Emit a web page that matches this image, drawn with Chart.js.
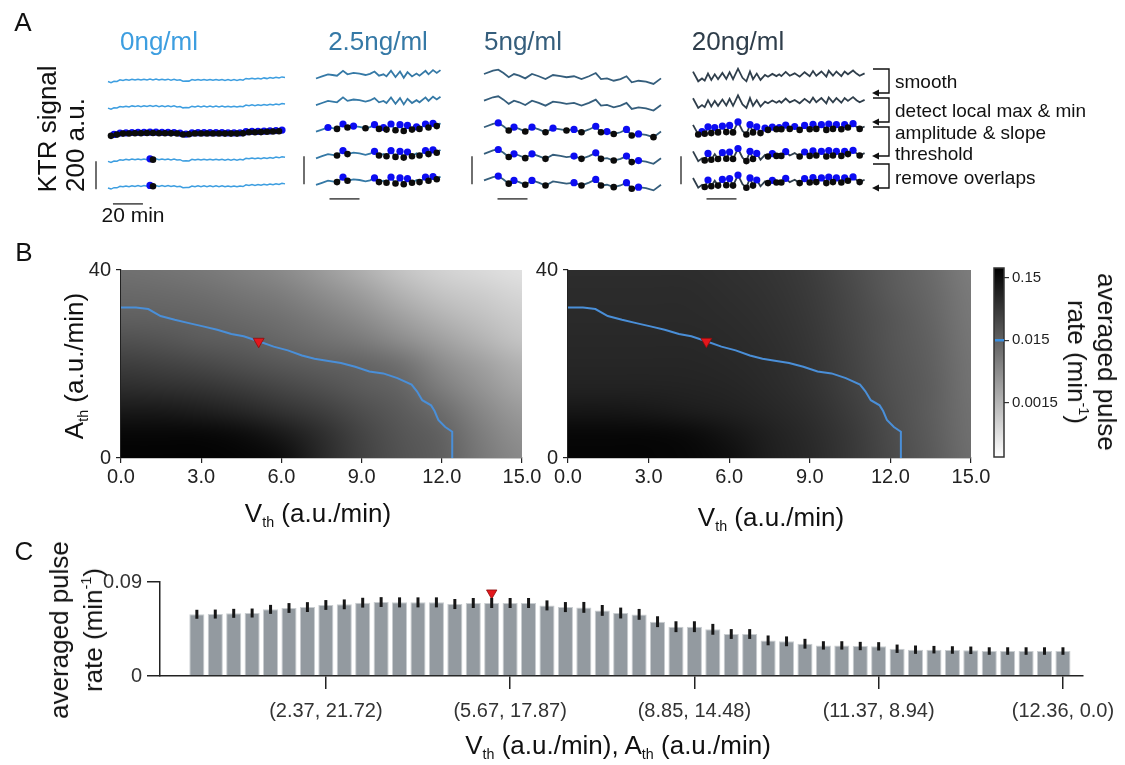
<!DOCTYPE html>
<html><head><meta charset="utf-8">
<script src="https://cdn.jsdelivr.net/npm/chart.js@4.4.1/dist/chart.umd.min.js"></script>
<style>
html,body{margin:0;padding:0;background:#fff;}
#fig{position:relative;width:1125px;height:765px;overflow:hidden;background:#fff;font-family:'Liberation Sans',Arial,Helvetica,sans-serif;color:#111;}
#fig canvas{position:absolute;left:0;top:0;}
.t{position:absolute;white-space:nowrap;line-height:1;transform:translate(-50%,-50%);}
.l{position:absolute;white-space:nowrap;line-height:1;transform:translateY(-50%);}
.rl{position:absolute;white-space:nowrap;text-align:center;transform:translate(-50%,-50%) rotate(-90deg);}
.rr{position:absolute;white-space:nowrap;text-align:center;transform:translate(-50%,-50%) rotate(90deg);}
sub{font-size:0.55em;vertical-align:-0.35em;line-height:0;}
sup{font-size:0.55em;vertical-align:0.75em;line-height:0;}
</style></head>
<body>
<div id="fig"></div>
<script>
// ================= DATA =================
// Panel A : KTR traces (time in min, signal in a.u.)
const conditionLabels = ['0ng/ml','2.5ng/ml','5ng/ml','20ng/ml'];
const c0_t = [0,2,4,6,8,10,12,14,16,18,20,22,24,26,28,30,32,34,36,38,40,42,44,46,48,50,52,54,56,58,60,62,64,66,68,70,72,74,76,78,80,82,84,86,88,90,92,94,96,98,100,102,104,106,108,110,112,114,116,118];
const c0_v = [-11,-19,-9,-10,1,-3,3,-2,5,0,6,0,6,1,7,1,7,0,6,0,6,-1,5,-2,1,-9,-7,-8,3,-2,4,-2,4,-2,4,-2,4,-2,4,-3,3,-3,3,-3,3,-1,11,7,13,7,13,8,15,10,17,12,19,14,22,18];
const c0_peaks = [14];
const c0_troughs = [15];
const c1_t = [0,4,8,11,14,18,21,25,29,33,36,39,42,45,47,50,53,56,58.5,61,64,67,69,73,75,78,80.5,83];
const c1_v = [-25,-10,5,0,-5,30,5,15,10,0,8,25,-5,5,-10,30,-15,25,-20,20,-10,10,-5,30,5,35,15,35];
const c1_peaks = [5,11,15,17,19,23,25];
const c1_troughs = [4,6,12,14,16,18,20,22,24,26];
const c2_t = [0,6,9.5,13,16.5,20,23.5,27.5,32,36.5,41,46,51,55,60,65,70,74.5,78,82,86.5,91,95,98.5,103,108,113,118];
const c2_v = [7,31,38,14,-16,7,-5,-24,7,-9,-29,0,-8,-16,-9,-29,-9,14,-29,-24,-41,-29,-9,-52,-41,-48,-64,-24];
const c2_peaks = [2,5,8,14,17,22,24];
const c2_troughs = [4,7,10,15,18,20,23];
const c3_t = [0,3.5,6,7.8,10,12.2,14.5,16.7,19.6,22.2,24.4,26.7,30,33,35.6,38,40,42.5,45,48,50,52.9,55.6,57.5,58.9,61.8,64.5,67.8,71.1,74.4,77.8,80,82.2,85.6,88.9,90.5,93.3,95.6,98.9,101.1,103.3,106.7,109,111.1,114.4];
const c3_v = [24,-45,-25,-40,10,-35,5,-30,15,-28,20,-30,45,-20,-45,25,-30,10,-35,0,-12,8,-8,5,-8,22,-5,12,-12,20,-8,28,-5,25,-12,30,-5,25,-8,25,5,32,10,-5,12];
const c3_peaks = [4,8,10,12,15,17,21,25,29,31,33,35,37,39,41];
const c3_troughs = [3,5,7,9,11,14,16,20,22,24,28,30,32,34,36,38,40,43];
const stepLabels = ['smooth','detect local max & min','amplitude & slope','threshold','remove overlaps'];
const scaleBarMinutes = 20;
const scaleBarAU = 200;

// Panel B : averaged pulse rate (min^-1) on the (V_th, A_th) grid
const heatV = [0,1.5,3,4.5,6,7.5,9,10.5,12,13.5,15];
const heatA = [40,35,30,25,20,15,10,5,0];
const rateLeft = [
  [0.0101,0.0093,0.0081,0.0065,0.0049,0.0031,0.0018,0.0010,0.00069,0.00055,0.00045],
  [0.0125,0.0119,0.0107,0.0088,0.0071,0.0047,0.0029,0.0016,0.0010,0.00079,0.00060],
  [0.0156,0.0152,0.0140,0.0119,0.0098,0.0071,0.0047,0.0027,0.0016,0.0011,0.00079],
  [0.024,0.0217,0.018,0.016,0.0129,0.0101,0.0077,0.0047,0.0027,0.0016,0.0010],
  [0.040,0.0355,0.030,0.024,0.0194,0.016,0.014,0.0101,0.0047,0.0027,0.0016],
  [0.063,0.058,0.052,0.042,0.032,0.024,0.018,0.014,0.0071,0.0038,0.0022],
  [0.109,0.109,0.095,0.0765,0.055,0.040,0.0256,0.018,0.0112,0.0054,0.0031],
  [0.18,0.18,0.18,0.156,0.109,0.063,0.0336,0.0211,0.0152,0.0071,0.0041],
  [0.20,0.20,0.20,0.19,0.156,0.072,0.0365,0.0229,0.0165,0.0081,0.0049]
];
const rateRight = [
  [0.063,0.063,0.063,0.063,0.058,0.052,0.042,0.028,0.018,0.012,0.0071],
  [0.067,0.067,0.067,0.067,0.061,0.055,0.044,0.030,0.019,0.013,0.0077],
  [0.069,0.069,0.069,0.069,0.065,0.058,0.047,0.032,0.021,0.014,0.0081],
  [0.072,0.072,0.072,0.072,0.069,0.061,0.049,0.034,0.022,0.015,0.0085],
  [0.077,0.077,0.077,0.077,0.072,0.065,0.052,0.036,0.023,0.016,0.0090],
  [0.085,0.085,0.085,0.083,0.079,0.069,0.055,0.038,0.024,0.017,0.0093],
  [0.119,0.119,0.112,0.101,0.090,0.077,0.061,0.042,0.026,0.017,0.0098],
  [0.18,0.18,0.18,0.165,0.125,0.090,0.069,0.047,0.028,0.018,0.0101],
  [0.19,0.19,0.19,0.18,0.148,0.095,0.072,0.048,0.029,0.019,0.0106]
];
const contourV = [0,0.56,1.02,1.48,2.01,2.54,3.07,3.60,4.13,4.59,5.12,5.71,6.24,6.77,7.24,7.70,8.23,8.76,9.29,9.81,10.34,10.87,11.07,11.27,11.60,11.73,11.87,12.13,12.39,12.39];
const contourA = [32.0,32.0,31.7,30.2,29.4,28.7,28.0,27.3,26.4,25.9,24.9,23.7,22.9,21.8,21.1,20.7,20.2,19.4,18.4,18.0,17.0,15.6,14.2,12.3,11.2,10.0,8.1,6.6,5.6,0];
const markV = 5.15, markA = 24.8;
const vTicks = [0,3,6,9,12,15];
const aTicks = [0,40];
const cbMin = 0.0002, cbMax = 0.217;
const cbTicks = [0.0015,0.015,0.15];
const cbTickLabels = ['0.0015','0.015','0.15'];
const contourLevel = 0.015;

// Panel C : averaged pulse rate along the contour
const barRate = [0.0591,0.0593,0.0600,0.0603,0.0638,0.0651,0.0660,0.0680,0.0686,0.0702,0.0708,0.0705,0.0705,0.0705,0.0689,0.0699,0.0699,0.0699,0.0699,0.0676,0.0660,0.0657,0.0628,0.0603,0.0590,0.0520,0.0472,0.0472,0.0447,0.0402,0.0402,0.0341,0.0332,0.0309,0.0293,0.0293,0.0287,0.0284,0.0261,0.0252,0.0252,0.0249,0.0246,0.0239,0.0239,0.0239,0.0239,0.0239];
const barErr = [0.0043,0.0043,0.0043,0.0043,0.0043,0.0047,0.0047,0.0047,0.0047,0.0047,0.0047,0.0048,0.0048,0.0048,0.0048,0.0048,0.0048,0.0048,0.0048,0.0048,0.0048,0.0052,0.0052,0.0052,0.0052,0.0052,0.0052,0.0052,0.0052,0.0047,0.0047,0.0047,0.0047,0.0047,0.0040,0.0040,0.0040,0.0040,0.0040,0.0040,0.0036,0.0036,0.0036,0.0036,0.0036,0.0036,0.0036,0.0036];
const barTickIdx = [7,17,27,37,47];
const barTickLabels = ['(2.37, 21.72)','(5.67, 17.87)','(8.85, 14.48)','(11.37, 8.94)','(12.36, 0.0)'];
const barMarkIdx = 16;
const rateTicks = [0,0.09];
const rateTickLabels = ['0','0.09'];

// ================= RENDER =================
const W = 1125, H = 765;
const FONT = "'Liberation Sans', Arial, Helvetica, sans-serif";
Chart.defaults.font.family = FONT;
Chart.defaults.color = '#222';
const fig = document.getElementById('fig');
function newCtx(){ const c=document.createElement('canvas'); c.width=W; c.height=H; fig.appendChild(c); return c.getContext('2d'); }
function text(cls, x, y, size, html, extra){ const d=document.createElement('div'); d.className=cls; d.style.left=x+'px'; d.style.top=y+'px'; d.style.fontSize=size+'px'; if(extra) Object.assign(d.style, extra); d.innerHTML=html; fig.appendChild(d); return d; }
const BLUE_DOT = '#0c0cf2', BLACK_DOT = '#0b0b0b';

// ---------- Panel A ----------
const PX_PER_MIN = 1.5, PX_PER_AU = 0.14;
const rowOffsets = [0,-190,-380,-570,-760];
const condStyle = [
  {color:'#3d9ee0', lw:1.5, x0:108, top:55, barStart:3.3},
  {color:'#3579a6', lw:1.8, x0:316, top:50, barStart:9},
  {color:'#355e7c', lw:1.8, x0:484, top:50, barStart:9},
  {color:'#2f3e4b', lw:1.8, x0:693, top:50, barStart:9}
];
const condData = [
  {t:c0_t, v:c0_v, pk:c0_peaks, tr:c0_troughs},
  {t:c1_t, v:c1_v, pk:c1_peaks, tr:c1_troughs},
  {t:c2_t, v:c2_v, pk:c2_peaks, tr:c2_troughs},
  {t:c3_t, v:c3_v, pk:c3_peaks, tr:c3_troughs}
];
function extrema(v){ const mx=[],mn=[]; for(let i=1;i<v.length-1;i++){ if(v[i]>v[i-1]&&v[i]>=v[i+1]) mx.push(i); else if(v[i]<v[i-1]&&v[i]<=v[i+1]) mn.push(i);} return {mx,mn}; }
const bracketPix = [[69,93],[98,122],[127,156],[164,188]];
const bracketPlugin = {id:'brackets', afterDraw(chart){
  const c=chart.ctx; c.save(); c.strokeStyle='#111'; c.fillStyle='#111'; c.lineWidth=1.4;
  for(const [y0,y1] of bracketPix){
    c.beginPath(); c.moveTo(873,y0); c.lineTo(889,y0); c.lineTo(889,y1); c.lineTo(878,y1); c.stroke();
    c.beginPath(); c.moveTo(872,y1); c.lineTo(879,y1-3.5); c.lineTo(879,y1+3.5); c.closePath(); c.fill();
  }
  c.restore(); }};

condData.forEach((cd, k) => {
  const st = condStyle[k];
  const dur = cd.t[cd.t.length-1];
  const left = st.x0 - 20, right = st.x0 + dur*PX_PER_MIN + 8;
  const top = st.top, bottom = st.top + 160;
  const ymax = 25/PX_PER_AU, ymin = ymax - (bottom-top)/PX_PER_AU;
  const ds = [];
  rowOffsets.forEach(off => ds.push({data: cd.t.map((t,i)=>({x:t,y:cd.v[i]+off})), showLine:true, borderColor:st.color, borderWidth:st.lw, pointRadius:0, order:5}));
  const ex = extrema(cd.v);
  const dots = (idx, off) => idx.map(i=>({x:cd.t[i], y:cd.v[i]+off}));
  ds.push({data:dots(ex.mx,rowOffsets[2]), pointRadius:3.6, backgroundColor:BLUE_DOT, borderWidth:0, order:2});
  ds.push({data:dots(ex.mn,rowOffsets[2]), pointRadius:3.3, backgroundColor:BLACK_DOT, borderWidth:0, order:1});
  [3,4].forEach(r => {
    ds.push({data:dots(cd.pk,rowOffsets[r]), pointRadius:3.6, backgroundColor:BLUE_DOT, borderWidth:0, order:2});
    ds.push({data:dots(cd.tr,rowOffsets[r]), pointRadius:3.3, backgroundColor:BLACK_DOT, borderWidth:0, order:1});
  });
  // scale bars (20 min, 200 a.u.)
  const vbBottom = rowOffsets[4] - 20;
  ds.push({data:[{x:-12/PX_PER_MIN, y:vbBottom},{x:-12/PX_PER_MIN, y:vbBottom+scaleBarAU}], showLine:true, borderColor:'#333', borderWidth:1.4, pointRadius:0, order:6});
  const hbY = rowOffsets[4] - 125;
  ds.push({data:[{x:st.barStart, y:hbY},{x:st.barStart+scaleBarMinutes, y:hbY}], showLine:true, borderColor:'#333', borderWidth:1.4, pointRadius:0, order:6});
  ds.forEach(d=>d.clip=false);
  new Chart(newCtx(), {
    type:'scatter', data:{datasets:ds},
    options:{animation:false, responsive:false, events:[], layout:{padding:{left:left, right:W-right, top:top, bottom:H-bottom}},
      plugins:{legend:{display:false}, tooltip:{enabled:false}},
      scales:{x:{type:'linear', display:false, min:-20/PX_PER_MIN, max:dur+8/PX_PER_MIN}, y:{type:'linear', display:false, min:ymin, max:ymax}}},
    plugins: k===3 ? [bracketPlugin] : []
  });
});

// ---------- Panel B ----------
function grayOf(v){ const f=(Math.log10(v)-Math.log10(cbMin))/(Math.log10(cbMax)-Math.log10(cbMin)); return Math.round(255*(1-Math.min(1,Math.max(0,f)))); }
function heatPlugin(grid){
  const nr=grid.length, nc=grid[0].length;
  const off=document.createElement('canvas'); off.width=nc; off.height=nr;
  const octx=off.getContext('2d'); const img=octx.createImageData(nc,nr);
  for(let r=0;r<nr;r++) for(let c=0;c<nc;c++){ const g=grayOf(grid[r][c]); const p=(r*nc+c)*4; img.data[p]=g; img.data[p+1]=g; img.data[p+2]=g; img.data[p+3]=255; }
  octx.putImageData(img,0,0);
  return {id:'heat', beforeDatasetsDraw(chart){
    const {ctx, chartArea:a, scales:{x,y}} = chart;
    const dV=heatV[1]-heatV[0], dA=heatA[0]-heatA[1];
    const x0=x.getPixelForValue(heatV[0]-dV/2), x1=x.getPixelForValue(heatV[nc-1]+dV/2);
    const y0=y.getPixelForValue(heatA[0]+dA/2), y1=y.getPixelForValue(heatA[nr-1]-dA/2);
    ctx.save(); ctx.beginPath(); ctx.rect(a.left,a.top,a.right-a.left,a.bottom-a.top); ctx.clip();
    ctx.imageSmoothingEnabled=true; ctx.imageSmoothingQuality='high';
    ctx.drawImage(off,x0,y0,x1-x0,y1-y0); ctx.restore(); }};
}
function heatChart(grid, L, R){
  const T=270, B=458, yW=50, xH=40;
  new Chart(newCtx(), {
    type:'scatter',
    data:{datasets:[
      {data:[{x:markV,y:markA}], pointStyle:'triangle', rotation:180, pointRadius:6.3, backgroundColor:'#e3171c', borderColor:'#8e0d0d', borderWidth:0.8, clip:false, order:0},
      {data:contourV.map((v,i)=>({x:v,y:contourA[i]})), showLine:true, borderColor:'#4a8fd8', borderWidth:2, pointRadius:0, order:1}
    ]},
    options:{animation:false, responsive:false, events:[], layout:{padding:{left:L-yW, right:W-R, top:T, bottom:H-B-xH}},
      plugins:{legend:{display:false}, tooltip:{enabled:false}},
      scales:{
        x:{type:'linear', min:0, max:15, afterBuildTicks:s=>{s.ticks=vTicks.map(v=>({value:v}));}, afterFit:s=>{s.height=xH;},
           ticks:{callback:v=>Number(v).toFixed(1), font:{size:20}, color:'#222', padding:2, maxRotation:0, autoSkip:false},
           grid:{drawOnChartArea:false, tickLength:5, color:'#222', lineWidth:1.2}, border:{color:'#222', width:1.2}},
        y:{type:'linear', min:0, max:40, afterBuildTicks:s=>{s.ticks=aTicks.map(v=>({value:v}));}, afterFit:s=>{s.width=yW;},
           ticks:{callback:v=>String(v), font:{size:20}, color:'#222', padding:5, autoSkip:false},
           grid:{drawOnChartArea:false, tickLength:5, color:'#222', lineWidth:1.2}, border:{color:'#222', width:1.2}}
      }},
    plugins:[heatPlugin(grid)]
  });
}
heatChart(rateLeft, 121, 522);
heatChart(rateRight, 568, 971);

// colour bar
const cbPlugin = {id:'cbar', beforeDatasetsDraw(chart){
  const {ctx, chartArea:a, scales:{y}} = chart;
  const yTop=y.getPixelForValue(cbMax), yBot=y.getPixelForValue(cbMin);
  const g=ctx.createLinearGradient(0,yTop,0,yBot); g.addColorStop(0,'rgb(0,0,0)'); g.addColorStop(1,'rgb(255,255,255)');
  ctx.save(); ctx.fillStyle=g; ctx.fillRect(a.left,yTop,a.right-a.left,yBot-yTop);
  ctx.strokeStyle='#333'; ctx.lineWidth=1.5; ctx.strokeRect(a.left,yTop,a.right-a.left,yBot-yTop);
  const yl=y.getPixelForValue(contourLevel); ctx.strokeStyle='#3a8fe0'; ctx.lineWidth=2.5;
  ctx.beginPath(); ctx.moveTo(a.left+1,yl); ctx.lineTo(a.right,yl); ctx.stroke(); ctx.restore(); }};
new Chart(newCtx(), {
  type:'scatter', data:{datasets:[{data:[]}]},
  options:{animation:false, responsive:false, events:[], layout:{padding:{left:994, right:W-1004-60, top:268, bottom:H-457}},
    plugins:{legend:{display:false}, tooltip:{enabled:false}},
    scales:{x:{type:'linear', display:false, min:0, max:1},
      y:{type:'logarithmic', position:'right', min:cbMin, max:cbMax, afterBuildTicks:s=>{s.ticks=cbTicks.map(v=>({value:v}));}, afterFit:s=>{s.width=60;},
         ticks:{callback:(v)=>{const i=cbTicks.indexOf(v); return i>=0?cbTickLabels[i]:'';}, font:{size:15}, color:'#222', padding:3, autoSkip:false},
         grid:{drawOnChartArea:false, tickLength:5, color:'#333', lineWidth:1.2}, border:{display:false}}}},
  plugins:[cbPlugin]
});

// ---------- Panel C ----------
const errPlugin = {id:'err', afterDatasetsDraw(chart){
  const {ctx, scales:{x,y}} = chart; ctx.save(); ctx.strokeStyle='#161616'; ctx.lineWidth=3; ctx.lineCap='butt';
  barRate.forEach((v,i)=>{ const px=x.getPixelForValue(i); ctx.beginPath(); ctx.moveTo(px,y.getPixelForValue(v-barErr[i])); ctx.lineTo(px,y.getPixelForValue(v+barErr[i])); ctx.stroke(); });
  ctx.restore(); }};
{
  const L=160, R=1083, T=582, B=676, yW=160, xH=70;
  new Chart(newCtx(), {
    type:'bar',
    data:{datasets:[
      {type:'scatter', data:[{x:barMarkIdx, y:barRate[barMarkIdx]+barErr[barMarkIdx]+0.0048}], pointStyle:'triangle', rotation:180, pointRadius:6, backgroundColor:'#e3171c', borderColor:'#8e0d0d', borderWidth:0.8, clip:false, order:0},
      {type:'bar', data:barRate.map((v,i)=>({x:i,y:v})), backgroundColor:'#939aa0', borderColor:'#c9cdd0', borderWidth:{left:1,right:1,top:1,bottom:0}, borderSkipped:'bottom', barPercentage:0.82, categoryPercentage:1, order:1}
    ]},
    options:{animation:false, responsive:false, events:[], layout:{padding:{left:L-yW, right:W-R, top:T, bottom:H-B-xH}},
      plugins:{legend:{display:false}, tooltip:{enabled:false}},
      scales:{
        x:{type:'linear', offset:false, min:-2, max:48.08, afterBuildTicks:s=>{s.ticks=barTickIdx.map(v=>({value:v}));}, afterFit:s=>{s.height=xH;},
           ticks:{callback:v=>{const i=barTickIdx.indexOf(v); return i>=0?barTickLabels[i]:'';}, font:{size:20}, color:'#333', padding:10, maxRotation:0, minRotation:0, autoSkip:false},
           grid:{offset:false, drawOnChartArea:false, tickLength:13, color:'#222', lineWidth:1.5}, border:{color:'#222', width:1.5}},
        y:{type:'linear', min:0, max:0.09, afterBuildTicks:s=>{s.ticks=rateTicks.map(v=>({value:v}));}, afterFit:s=>{s.width=yW;},
           ticks:{callback:v=>{const i=rateTicks.indexOf(v); return i>=0?rateTickLabels[i]:'';}, font:{size:20}, color:'#333', padding:5, autoSkip:false},
           grid:{drawOnChartArea:false, tickLength:13, color:'#222', lineWidth:1.5}, border:{color:'#222', width:1.5}}
      }},
    plugins:[errPlugin]
  });
}

// ---------- Text ----------
text('t',23,22,26,'A'); text('t',24,252,26,'B'); text('t',24,551,26,'C');
const titleX=[159,378,523,738];
conditionLabels.forEach((s,i)=>text('t',titleX[i],41,26,s,{color:condStyle[i].color}));
text('rl',47,129,26,'KTR signal');
text('rl',75,145,26,'200 a.u.');
text('t',133,214,21,scaleBarMinutes+' min');
const stepY=[81,110,131.7,153.3,176.7];
stepLabels.forEach((s,i)=>text('l',895,stepY[i],19,s));
text('rl',74,366,26,'A<sub>th</sub> (a.u./min)');
text('t',318,513,26,'V<sub>th</sub> (a.u./min)');
text('t',771,517,26,'V<sub>th</sub> (a.u./min)');
text('rr',1092,362,26,'averaged pulse<br>rate (min<sup>-1</sup>)',{lineHeight:'30px'});
text('rl',76,630,26,'averaged pulse<br>rate (min<sup>-1</sup>)',{lineHeight:'34px'});
text('t',618,745,26,'V<sub>th</sub> (a.u./min), A<sub>th</sub> (a.u./min)');
</script>
</body></html>
